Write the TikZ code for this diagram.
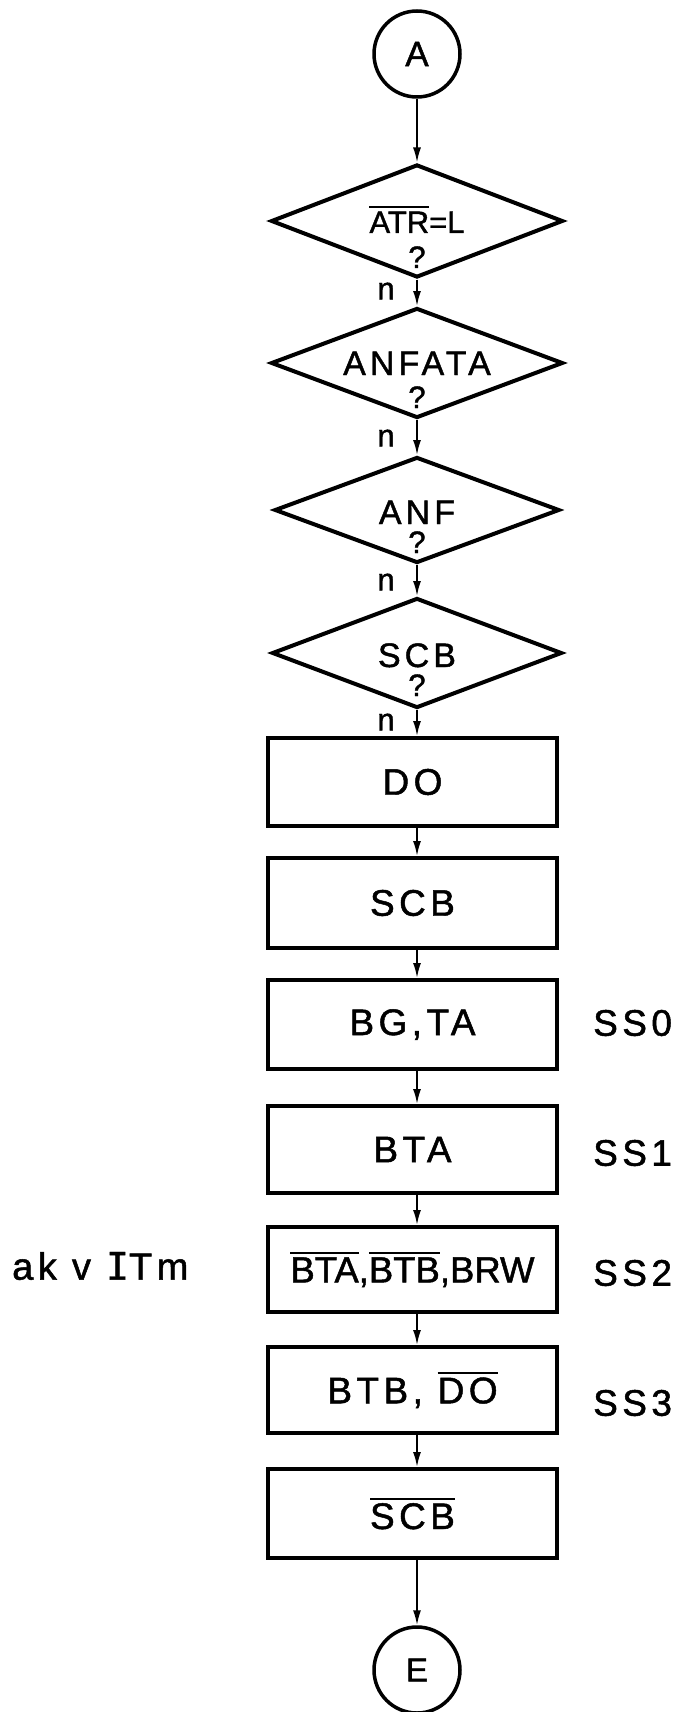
\documentclass[tikz,border=0pt]{standalone}
\usepackage{fontspec}
\setmainfont{Liberation Sans}[FakeBold=1.2]
\newfontfamily\lblfont[LetterSpace=12,FakeBold=1.3]{Liberation Sans}
\newfontfamily\tightfont[FakeBold=1.3]{Liberation Sans}
\newfontfamily\serifI[FakeBold=1.0]{DejaVu Sans Mono}
\usetikzlibrary{shapes.geometric,arrows.meta}
\newcommand\ovl[1]{\vbox{\hrule height 2pt\kern 3.5pt\hbox{#1}}}
\begin{document}
\begin{tikzpicture}[x=1pt,y=-1pt,
  dia/.style={draw, diamond, line width=4pt, minimum width=292pt, minimum height=111pt, inner sep=0pt},
  box/.style={draw, rectangle, line width=4pt, minimum width=289pt, minimum height=88pt, inner sep=0pt, font=\lblfont\fontsize{37}{40}\selectfont},
  conn/.style={draw, circle, line width=3.5pt, minimum size=86pt, inner sep=0pt, font=\lblfont\fontsize{35}{38}\selectfont},
  dtext/.style={inner sep=0pt, anchor=base, font=\lblfont\fontsize{34}{36}\selectfont},
  qmark/.style={inner sep=0pt, anchor=base, font=\lblfont\fontsize{31}{33}\selectfont},
  nlab/.style={inner sep=0pt, font=\lblfont\fontsize{31}{33}\selectfont},
  side/.style={inner sep=0pt, anchor=west, font=\lblfont\fontsize{37}{40}\selectfont},
  arr/.style={line width=1.8pt, -{Latex[length=15pt,width=8pt]}}
]
\useasboundingbox (0,0) rectangle (673,1712);

% connectors (terminals)
\node[conn] (a) at (417,54) {A};
\node[conn, font=\lblfont\fontsize{33}{36}\selectfont] (e) at (417,1670) {E};

% decisions
\node[dia, minimum height=113pt] (d1) at (417,221) {};
\node[dia, minimum height=110pt] (d2) at (417,363) {};
\node[dia, minimum width=285pt, minimum height=106pt] (d3) at (417,510) {};
\node[dia, minimum width=290pt, minimum height=110pt] (d4) at (417,653) {};

\node[dtext, font=\tightfont\fontsize{31}{34}\selectfont] (t1) at (417,233) {\ovl{ATR}=L};
\node[qmark] (q1) at (417,268) {?};
\node[dtext] (t2) at (417,375) {ANFATA};
\node[qmark] (q2) at (417,408) {?};
\node[dtext] (t3) at (417,524) {ANF};
\node[qmark] (q3) at (417,553) {?};
\node[dtext] (t4) at (417,667) {SCB};
\node[qmark] (q4) at (417,696) {?};

\node[nlab] (n1) at (386,291) {n};
\node[nlab] (n2) at (386,438) {n};
\node[nlab] (n3) at (386,582) {n};
\node[nlab] (n4) at (386,722) {n};

% process boxes
\node[box] (b1) at (412.5,782) {DO};
\node[box, minimum height=90pt] (b2) at (412.5,903) {SCB};
\node[box, minimum height=89pt] (b3) at (412.5,1024.5) {BG,TA};
\node[box, minimum height=87pt] (b4) at (412.5,1149.5) {BTA};
\node[box, minimum height=85pt, font=\tightfont\fontsize{36.5}{40}\selectfont] (b5) at (412.5,1269.5) {\ovl{BTA},\ovl{BTB},BRW};
\node[box, minimum height=86pt] (b6) at (412.5,1390) {BTB, \ovl{DO}};
\node[box, minimum height=89pt] (b7) at (412.5,1513.5) {\ovl{SCB}};

% side labels
\node[side] (s0) at (593,1023) {SS0};
\node[side] (s1) at (593,1153) {SS1};
\node[side] (s2) at (593,1273) {SS2};
\node[side] (s3) at (593,1403) {SS3};
\node[side, font=\lblfont\fontsize{38}{40}\selectfont] (ak) at (12,1266) {ak v {\serifI I}Tm};

% arrows
\draw[arr] (a.south) -- (d1.north);
\draw[arr] (d1.south) -- (d2.north);
\draw[arr] (d2.south) -- (d3.north);
\draw[arr] (d3.south) -- (d4.north);
\draw[arr] (d4.south) -- (b1.north -| a);
\draw[arr] (b1.south -| a) -- (b2.north -| a);
\draw[arr] (b2.south -| a) -- (b3.north -| a);
\draw[arr] (b3.south -| a) -- (b4.north -| a);
\draw[arr] (b4.south -| a) -- (b5.north -| a);
\draw[arr] (b5.south -| a) -- (b6.north -| a);
\draw[arr] (b6.south -| a) -- (b7.north -| a);
\draw[arr] (b7.south -| a) -- (e.north);
\end{tikzpicture}
\end{document}
